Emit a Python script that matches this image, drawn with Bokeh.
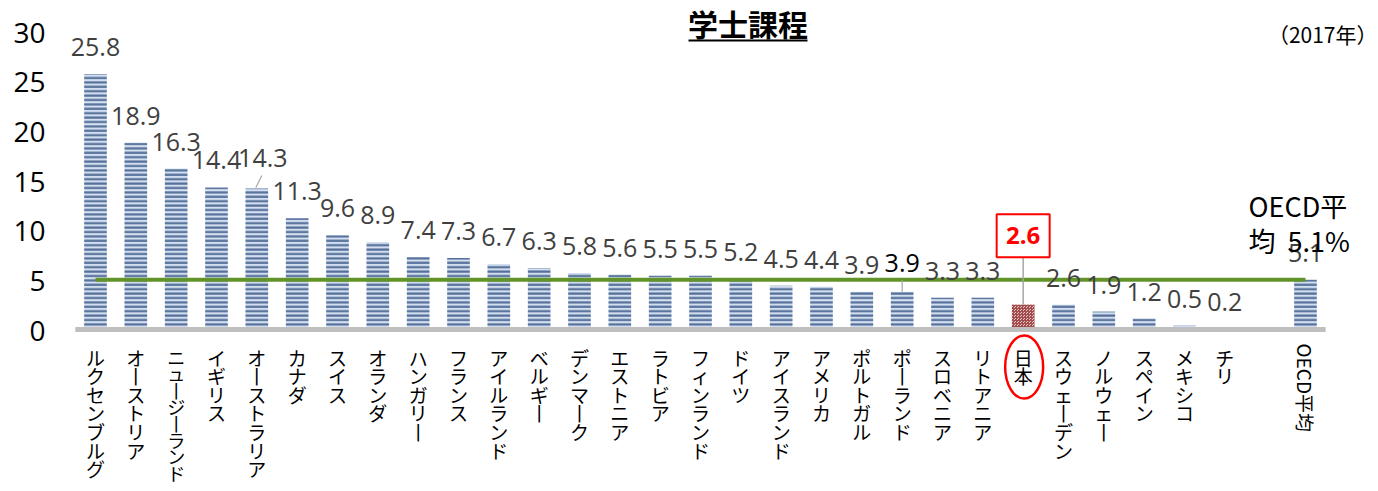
import numpy as np
from bokeh.plotting import figure
from bokeh.models import Range1d, FixedTicker, Label, ColumnDataSource
from bokeh.core.properties import value
from bokeh.embed import file_html
from bokeh.resources import INLINE

# ---------------- data ----------------
categories = ["ルクセンブルグ", "オーストリア", "ニュージーランド", "イギリス", "オーストラリア",
              "カナダ", "スイス", "オランダ", "ハンガリー", "フランス", "アイルランド", "ベルギー",
              "デンマーク", "エストニア", "ラトビア", "フィンランド", "ドイツ", "アイスランド",
              "アメリカ", "ポルトガル", "ポーランド", "スロベニア", "リトアニア", "日本",
              "スウェーデン", "ノルウェー", "スペイン", "メキシコ", "チリ", "", "OECD平均"]
values = [25.8, 18.9, 16.3, 14.4, 14.3, 11.3, 9.6, 8.9, 7.4, 7.3, 6.7, 6.3, 5.8, 5.6, 5.5,
          5.5, 5.2, 4.5, 4.4, 3.9, 3.9, 3.3, 3.3, 2.6, 2.6, 1.9, 1.2, 0.5, 0.2, None, 5.1]
oecd_average = 5.1
oecd_note = ["OECD平", "均\u00a0\u00a05.1%"]
y_ticks = [0, 5, 10, 15, 20, 25, 30]
title_text = "学士課程"
year_text = "（2017年）"
highlight = "日本"
oecd_label = "OECD平均"

# ---------------- geometry ----------------
W, H = 1378, 491
LEFT = 60
ppu_y = 298.0 / 30.0      # pixels per y unit
ppu_x = 40.333            # pixels per category slot
cat0_px = 35.0            # frame px of first category centre
y0_px = 330.0             # frame px (from top) of y = 0

x_start = -cat0_px / ppu_x
x_end = x_start + (W - LEFT) / ppu_x
y_end = y0_px / ppu_y
y_start = y_end - H / ppu_y


def fx(px):
    return (px - LEFT - cat0_px) / ppu_x


def fy(py):
    return (y0_px - py) / ppu_y


p = figure(width=W, height=H, output_backend="svg", toolbar_location=None,
           x_range=Range1d(x_start, x_end), y_range=Range1d(y_start, y_end),
           x_axis_location=None, min_border_left=LEFT, min_border_right=0,
           min_border_top=0, min_border_bottom=0)
p.outline_line_color = None
p.xgrid.grid_line_color = None
p.ygrid.grid_line_color = None
p.background_fill_color = "white"

ax = p.yaxis[0]
ax.ticker = FixedTicker(ticks=y_ticks)
ax.axis_line_color = None
ax.major_tick_line_color = None
ax.minor_tick_line_color = None
ax.major_label_standoff = 9
ax.major_label_text_font = "Open Sans"
ax.major_label_text_font_size = "28px"
ax.major_label_text_color = "black"

idx = np.arange(len(categories))
jp_i = categories.index(highlight)

bx = [i for i, v in zip(idx, values) if v is not None and i != jp_i]
bt = [v for i, v in zip(idx, values) if v is not None and i != jp_i]

p.vbar(x=bx, top=bt, bottom=0, width=0.56, fill_color="#d3dff0", line_color=None,
       hatch_pattern="horizontal_line", hatch_scale=4.4, hatch_weight=2.2,
       hatch_color="#55709a")
p.vbar(x=[jp_i], top=[values[jp_i]], bottom=0, width=0.56, fill_color="#ecc4c4",
       line_color=None, hatch_pattern="criss_cross", hatch_scale=3, hatch_weight=1,
       hatch_color="#a24d4d")

# OECD average line
p.line(x=[0, len(categories) - 1], y=[oecd_average, oecd_average],
       line_color="#629329", line_width=4)

# baseline
p.segment(x0=[-0.5], x1=[len(categories) - 0.5], y0=[0.1], y1=[0.1],
          line_color="#bfbfbf", line_width=5)

# value labels
lab_x, lab_y, lab_t, lab_c = [], [], [], []
extra = {4: (6, 3), 20: (0, 2)}
for i, v in zip(idx, values):
    if v is None or i == jp_i:
        continue
    dx, dy = extra.get(i, (0, 0))
    lab_x.append(i + dx / ppu_x)
    lab_y.append(v + (27 + dy) / ppu_y)
    lab_t.append(f"{v:.1f}")
    lab_c.append("black" if i == 20 else "#404040")
src = ColumnDataSource(dict(x=lab_x, y=lab_y, t=lab_t, c=lab_c))
p.text(x="x", y="y", text="t", text_color="c", source=src,
       text_font=value("Open Sans"), text_font_size=value("25px"),
       text_align="center", text_baseline="middle")

# leader lines
p.segment(x0=[4 - 1 / ppu_x], y0=[values[4] + 1 / ppu_y],
          x1=[4 + 5 / ppu_x], y1=[values[4] + 13 / ppu_y],
          line_color="#a6a6a6", line_width=1.2)
p.segment(x0=[20], y0=[values[20]], x1=[20], y1=[values[20] + 12 / ppu_y],
          line_color="#a6a6a6", line_width=1.2)

# Japan callout
box_cy = values[jp_i] + 69 / ppu_y
p.segment(x0=[jp_i], y0=[values[jp_i]], x1=[jp_i], y1=[box_cy - 21.5 / ppu_y],
          line_color="#a6a6a6", line_width=1.5)
p.rect(x=[jp_i], y=[box_cy], width=53 / ppu_x, height=43 / ppu_y,
       fill_color="white", line_color="#ff0000", line_width=2)
p.text(x=[jp_i], y=[box_cy], text=[f"{values[jp_i]:.1f}"], text_color="#ff0000",
       text_font=value("Open Sans"), text_font_size=value("24px"),
       text_font_style="bold", text_align="center", text_baseline="middle")

# category labels (vertical)
def vertical(name):
    return "\n".join("丨" if ch == "ー" else ch for ch in name)


normal_x, normal_t, long_x, long_t = [], [], [], []
for i, name in zip(idx, categories):
    if name in ("", oecd_label):
        continue
    if len(name) > 7:
        long_x.append(i)
        long_t.append(vertical(name))
    else:
        normal_x.append(i)
        normal_t.append(vertical(name))
p.text(x=normal_x, y=[-13 / ppu_y] * len(normal_x), text=normal_t, text_color="black",
       text_font=value("Noto Sans CJK JP"), text_font_size=value("19px"),
       text_line_height=0.69, text_align="center", text_baseline="top")
p.text(x=long_x, y=[-13 / ppu_y] * len(long_x), text=long_t, text_color="black",
       text_font=value("Noto Sans CJK JP"), text_font_size=value("18px"),
       text_line_height=0.64, text_align="center", text_baseline="top")
oi = categories.index(oecd_label)
p.text(x=[oi], y=[-13 / ppu_y], text=[oecd_label], angle=-np.pi / 2,
       text_color="black", text_font=value("Noto Sans CJK JP"),
       text_font_size=value("19px"), text_align="left", text_baseline="middle")

# ellipse around Japan
p.ellipse(x=[jp_i + 1 / ppu_x], y=[-36.5 / ppu_y], width=38 / ppu_x, height=63 / ppu_y,
          fill_color=None, line_color="#ff0000", line_width=2.5)

# title with underline
p.add_layout(Label(x=fx(747.5), y=fy(22), text=title_text, text_align="center",
                   text_baseline="middle", text_font="Noto Sans CJK JP",
                   text_font_size="30px", text_font_style="bold", text_color="black"))
p.line(x=[fx(688), fx(807)], y=[fy(40), fy(40)], line_color="black", line_width=2)

p.add_layout(Label(x=fx(1377), y=fy(33), text=year_text, text_align="right",
                   text_baseline="middle", text_font="Noto Sans CJK JP",
                   text_font_size="21px", text_color="black"))

# OECD note
for line_txt, py in zip(oecd_note, [205, 240]):
    p.add_layout(Label(x=fx(1248), y=fy(py), text=line_txt, text_align="left",
                       text_baseline="middle", text_font="Noto Sans CJK JP",
                       text_font_size="27px", text_color="black"))

open("out.html", "w").write(file_html(p, INLINE))
